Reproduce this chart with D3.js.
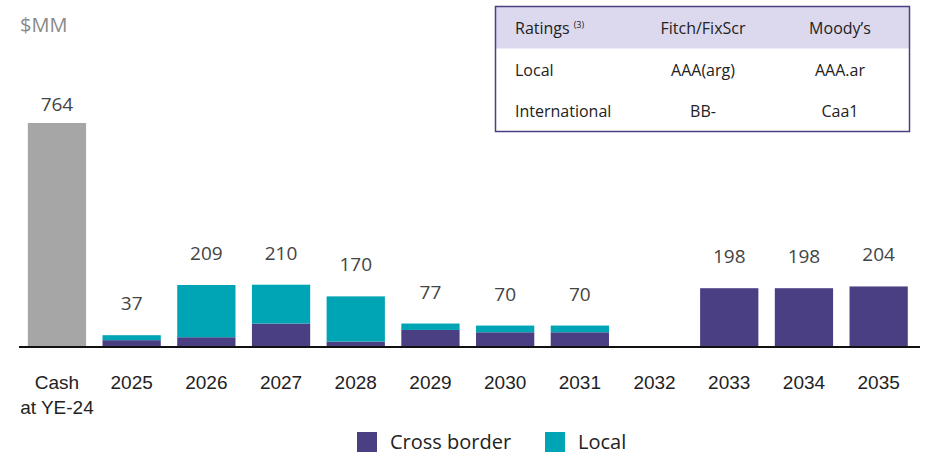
<!DOCTYPE html>
<html>
<head>
<meta charset="utf-8">
<script src="https://cdn.jsdelivr.net/npm/d3@7"></script>
<style>
  body { margin: 0; background: #fff; }
  svg { display: block; font-family: "Open Sans", sans-serif; }
</style>
</head>
<body>
<div id="chart"></div>
<script>
// categories and values ($MM)
var categories = ["Cash\nat YE-24", "2025", "2026", "2027", "2028", "2029", "2030", "2031", "2032", "2033", "2034", "2035"];
var cash = [764, 0, 0, 0, 0, 0, 0, 0, 0, 0, 0, 0];
var crossBorder = [0, 20, 30, 77, 15, 55, 47, 47, 0, 198, 198, 204];
var local = [0, 17, 179, 133, 155, 22, 23, 23, 0, 0, 0, 0];
var totals = [764, 37, 209, 210, 170, 77, 70, 70, null, 198, 198, 204];

// ratings table
var ratingHeader = ["Ratings", "Fitch/FixScr", "Moody\u2019s"];
var ratingRows = [
    ["Local", "AAA(arg)", "AAA.ar"],
    ["International", "BB-", "Caa1"]
];

var colors = { cash: "#a6a6a6", cross: "#4b3f84", local: "#00a5b5" };

var width = 926, height = 454;

var svg = d3.select("#chart").append("svg")
    .attr("width", width)
    .attr("height", height);

var x = d3.scaleBand()
    .domain(categories)
    .range([19.6, 916])
    .paddingInner(0.22)
    .paddingOuter(0.11);

var y = d3.scaleLinear()
    .domain([0, 764])
    .range([346, 123]);

// build stacked rows
var rows = categories.map(function (c, i) {
    return { cat: c, cash: cash[i], cross: crossBorder[i], local: local[i], total: totals[i] };
});

var stack = d3.stack().keys(["cash", "cross", "local"])(rows);

svg.append("g")
    .selectAll("g")
    .data(stack)
    .enter()
    .append("g")
    .attr("fill", function (d) { return colors[d.key]; })
    .selectAll("rect")
    .data(function (d) { return d; })
    .enter()
    .append("rect")
    .attr("x", function (d) { return x(d.data.cat); })
    .attr("width", x.bandwidth())
    .attr("y", function (d) { return y(d[1]); })
    .attr("height", function (d) { return y(d[0]) - y(d[1]); });

// value labels over each bar
svg.append("g")
    .selectAll("text")
    .data(rows.filter(function (d) { return d.total != null; }))
    .enter()
    .append("text")
    .attr("x", function (d) { return x(d.cat) + x.bandwidth() / 2; })
    .attr("y", function (d) {
        var top = y(d.cash + d.cross + d.local);
        // the cash label sits closer to its bar
        return d.cash ? top - 12 : top - 25;
    })
    .attr("text-anchor", "middle")
    .attr("font-size", 19)
    .attr("fill", "#444")
    .text(function (d) { return d.total; });

// x axis
var xAxis = d3.axisBottom(x).tickSize(0).tickPadding(0);
var gx = svg.append("g")
    .attr("transform", "translate(0," + y(0) + ")")
    .call(xAxis);
gx.select(".domain").remove();
gx.append("line")
    .attr("x1", 19).attr("x2", 920)
    .attr("y1", 1).attr("y2", 1)
    .attr("stroke", "#111")
    .attr("stroke-width", 2);
gx.selectAll(".tick text").remove();
gx.selectAll(".tick").append("text")
    .attr("text-anchor", "middle")
    .attr("fill", "#222")
    .attr("font-size", 19)
    .selectAll("tspan")
    .data(function (d) { return d.split("\n"); })
    .enter()
    .append("tspan")
    .attr("x", 0)
    .attr("y", function (d, i) { return 43 + i * 25; })
    .text(function (d) { return d; });

// unit label
svg.append("text")
    .attr("x", 20).attr("y", 32)
    .attr("font-size", 20)
    .attr("fill", "#8a8a8a")
    .text("$MM");

// legend
var legendItems = [
    { label: "Cross border", color: colors.cross, x: 357 },
    { label: "Local", color: colors.local, x: 545 }
];
var lg = svg.append("g").selectAll("g")
    .data(legendItems)
    .enter()
    .append("g")
    .attr("transform", function (d) { return "translate(" + d.x + ",432)"; });
lg.append("rect")
    .attr("width", 20).attr("height", 20)
    .attr("fill", function (d) { return d.color; });
lg.append("text")
    .attr("x", 33).attr("y", 17)
    .attr("font-size", 20)
    .attr("fill", "#222")
    .text(function (d) { return d.label; });

// ratings table
var tbl = svg.append("g");
var tx = 495.5, ty = 6.5, tw = 414, th = 125, headH = 42;
var colX = [515, 703, 840];
tbl.append("rect")
    .attr("x", tx).attr("y", ty)
    .attr("width", tw).attr("height", headH)
    .attr("fill", "#dcd9ee");
tbl.append("rect")
    .attr("x", tx).attr("y", ty)
    .attr("width", tw).attr("height", th)
    .attr("fill", "none")
    .attr("stroke", colors.cross)
    .attr("stroke-width", 1.5);

var allRows = [ratingHeader].concat(ratingRows);
allRows.forEach(function (r, ri) {
    var t = tbl.selectAll(null)
        .data(r)
        .enter()
        .append("text")
        .attr("x", function (d, ci) { return colX[ci]; })
        .attr("y", 34 + ri * 41.5)
        .attr("text-anchor", function (d, ci) { return ci === 0 ? "start" : "middle"; })
        .attr("font-size", 16)
        .attr("fill", "#222")
        .text(function (d) { return d; });
    if (ri === 0) {
        // footnote marker after "Ratings"
        t.filter(function (d, ci) { return ci === 0; })
            .append("tspan")
            .attr("dx", 4)
            .attr("dy", -6)
            .attr("font-size", 9)
            .text("(3)");
    }
});
</script>
</body>
</html>
